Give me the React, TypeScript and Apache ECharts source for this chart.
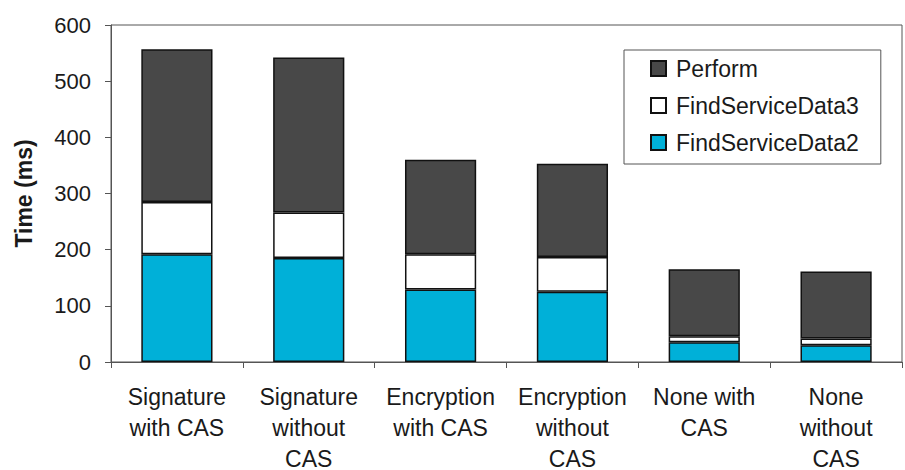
import React, { useEffect, useRef } from "react";
import * as echarts from "echarts";

const categories = [
  "Signature\nwith CAS",
  "Signature\nwithout\nCAS",
  "Encryption\nwith CAS",
  "Encryption\nwithout\nCAS",
  "None with\nCAS",
  "None\nwithout\nCAS",
];
const findServiceData2 = [192, 185, 129, 125, 35, 30];
const findServiceData3 = [93, 81, 63, 62, 11, 12];
const perform = [272, 276, 168, 166, 119, 119];
const yTicks = { min: 0, max: 600, interval: 100 };

const FONT = "'Liberation Sans', Arial, Helvetica, sans-serif";

export default function App() {
  const ref = useRef<HTMLDivElement>(null);
  useEffect(() => {
    if (!ref.current) return;
    const chart = echarts.init(ref.current, null, { renderer: "svg" });
    const barStyle = (color: string) => ({
      color,
      borderColor: "#111",
      borderWidth: 1.5,
    });
    chart.setOption({
      animation: false,
      textStyle: { fontFamily: FONT },
      grid: {
        left: 111,
        top: 25,
        right: 3,
        bottom: 108,
        show: true,
        borderColor: "#555",
        borderWidth: 1,
        containLabel: false,
        outerBoundsMode: "none",
      },
      legend: {
        orient: "vertical",
        left: 624,
        top: 50,
        data: ["Perform", "FindServiceData3", "FindServiceData2"],
        itemWidth: 15,
        itemHeight: 15,
        itemGap: 14,
        icon: "rect",
        borderColor: "#555",
        borderWidth: 1,
        borderRadius: 0,
        padding: [7, 22, 10, 26],
        textStyle: {
          fontFamily: FONT,
          fontSize: 23,
          color: "#1a1a1a",
          padding: [0, 0, 0, 5],
        },
      },
      xAxis: {
        type: "category",
        data: categories,
        axisLine: { lineStyle: { color: "#555", width: 1 } },
        axisTick: { show: true, length: 6, lineStyle: { color: "#555" } },
        axisLabel: {
          fontFamily: FONT,
          fontSize: 23,
          color: "#1a1a1a",
          lineHeight: 31,
          margin: 19,
          interval: 0,
        },
      },
      yAxis: {
        type: "value",
        min: yTicks.min,
        max: yTicks.max,
        interval: yTicks.interval,
        name: "Time (ms)",
        nameLocation: "middle",
        nameGap: 76,
        nameMoveOverlap: false,
        nameTextStyle: {
          fontFamily: FONT,
          fontSize: 23,
          fontWeight: "bold",
          color: "#1a1a1a",
        },
        axisLine: { show: true, lineStyle: { color: "#555", width: 1 } },
        axisTick: { show: true, length: 6, lineStyle: { color: "#555" } },
        splitLine: { show: false },
        axisLabel: {
          fontFamily: FONT,
          fontSize: 22,
          color: "#1a1a1a",
          margin: 20,
        },
      },
      series: [
        {
          name: "FindServiceData2",
          type: "bar",
          stack: "t",
          data: findServiceData2,
          barWidth: "54%",
          itemStyle: barStyle("#00B0D8"),
        },
        {
          name: "FindServiceData3",
          type: "bar",
          stack: "t",
          data: findServiceData3,
          barWidth: "54%",
          itemStyle: barStyle("#ffffff"),
        },
        {
          name: "Perform",
          type: "bar",
          stack: "t",
          data: perform,
          barWidth: "54%",
          itemStyle: barStyle("#484848"),
        },
      ],
    });
    return () => chart.dispose();
  }, []);
  return (
    <div
      ref={ref}
      style={{ position: "absolute", left: 0, top: 0, width: 905, height: 470 }}
    />
  );
}
